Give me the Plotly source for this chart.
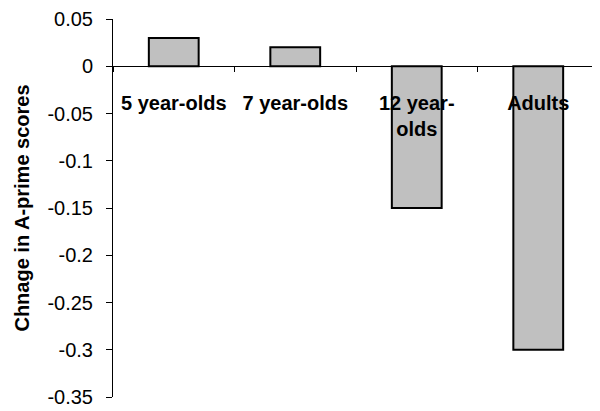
import plotly.graph_objects as go

categories = ["5 year-olds", "7 year-olds", "12 year-<br>olds", "Adults"]
values = [0.03, 0.02, -0.15, -0.3]
y_ticks = [0.05, 0, -0.05, -0.1, -0.15, -0.2, -0.25, -0.3, -0.35]
y_tick_labels = ["0.05", "0", "-0.05", "-0.1", "-0.15", "-0.2", "-0.25", "-0.3", "-0.35"]
y_title = "Chnage in A-prime scores"

y_min, y_max = -0.35, 0.05
FONT = "Liberation Sans, Arial, sans-serif"

fig = go.Figure()
fig.add_trace(go.Bar(
    x=categories, y=values,
    marker=dict(color="#C0C0C0", line=dict(color="#000000", width=2)),
    hoverinfo="skip",
))

zero_pos = (0 - y_min) / (y_max - y_min)

# the page body adds an 8px offset, so the figure is 8px smaller and margins shifted
fig.update_layout(
    width=592, height=403,
    margin=dict(l=105, r=1, t=11, b=14, pad=0),
    paper_bgcolor="white", plot_bgcolor="white",
    showlegend=False,
    bargap=0.59,
    font=dict(family=FONT, color="#000000"),
    xaxis=dict(
        type="category",
        anchor="free", position=zero_pos,
        showline=True, linecolor="#000000", linewidth=1,
        ticks="outside", tickson="boundaries", ticklen=5, tickcolor="#000000",
        tickfont=dict(size=20, family=FONT, weight="bold"),
        ticklabelstandoff=19,
        showgrid=False, zeroline=False,
        range=[-0.5, 3.5],
        automargin=False,
    ),
    yaxis=dict(
        range=[y_min, y_max],
        tickvals=y_ticks, ticktext=y_tick_labels,
        showline=True, linecolor="#000000", linewidth=1,
        ticks="outside", ticklen=6, tickcolor="#000000",
        tickfont=dict(size=20),
        ticklabelstandoff=9,
        showgrid=False, zeroline=False,
        automargin="left+right",
        title=dict(text=y_title, font=dict(size=20, weight="bold"), standoff=12),
    ),
)

fig.write_html("out.html")
